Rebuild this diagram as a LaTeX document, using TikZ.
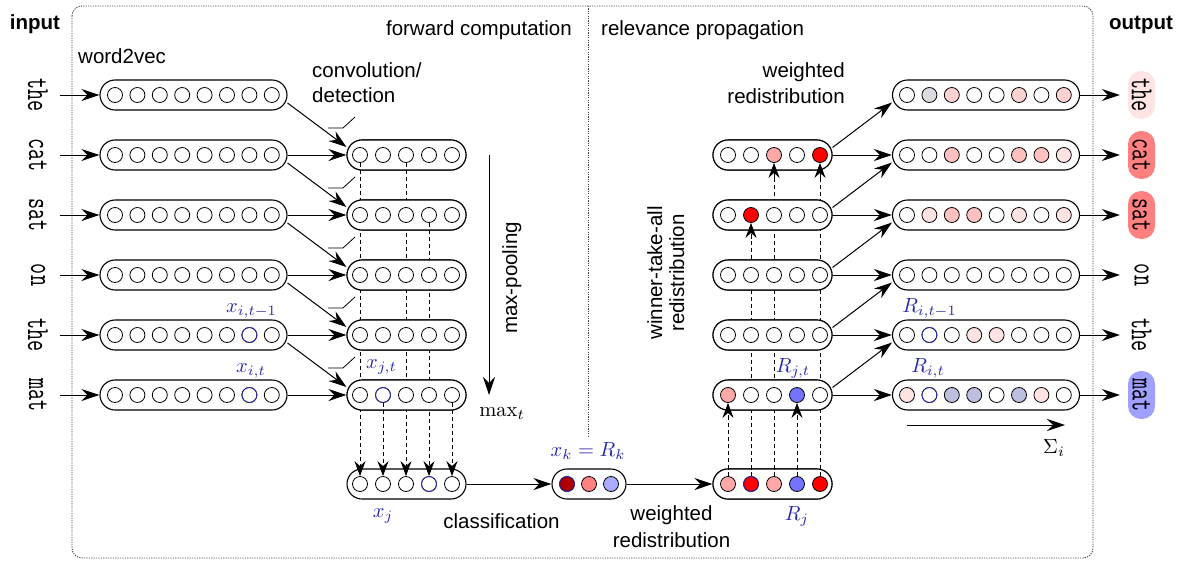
\documentclass[tikz,border=0pt]{standalone}
\usepackage{fontspec}
\setsansfont{Liberation Sans}
\usetikzlibrary{arrows.meta}
\definecolor{labblue}{RGB}{40,40,170}
\definecolor{oa}{HTML}{FFE2E2}
\definecolor{ob}{HTML}{FFD2D2}
\definecolor{oc}{HTML}{FFC0C0}
\definecolor{ogr}{HTML}{DCDCE0}
\definecolor{olav}{HTML}{BEBEDF}
\definecolor{rpk}{HTML}{FFA8A8}
\definecolor{rred}{HTML}{FF0000}
\definecolor{rblu}{HTML}{7373FF}
\definecolor{dred}{HTML}{B00000}
\definecolor{salm}{HTML}{FF8282}
\definecolor{lblu}{HTML}{AAAAFF}
\definecolor{wthe}{HTML}{FFE4E4}
\definecolor{wcat}{HTML}{FF8080}
\definecolor{wmat}{HTML}{A0A0FF}
\definecolor{framec}{HTML}{444444}

\newcommand\mkvec[7]{%
  \node[vbox, minimum width=#4] (#1) at (#2,#3) {};
  \foreach \f [count=\i] in {#7} {\node[cir, fill=\f] (#1-\i) at ({#5+#6*(\i-1)},#3) {};}%
}
\newcommand\ttw[1]{\scalebox{1}[1.5]{#1}}

\begin{document}
\begin{tikzpicture}[x=1pt,y=-1pt,
  vbox/.style={draw, line width=1.1pt, fill=white, rounded corners=15pt, minimum height=30pt, inner sep=0pt},
  cir/.style={draw, circle, minimum size=15pt, inner sep=0pt, line width=0.8pt},
  conn/.style={line width=1pt, -{Stealth[length=18pt,width=12pt,inset=6pt]}},
  dsh/.style={line width=0.9pt, dash pattern=on 4pt off 3pt},
  dar/.style={dsh, -{Stealth[length=15pt,width=11pt,inset=5pt]}},
  frm/.style={draw=framec, line width=0.9pt, dash pattern=on 1.2pt off 1.2pt},
  lab/.style={font=\fontsize{20.5}{24}\selectfont\sffamily, inner sep=0pt},
  blab/.style={font=\fontsize{20.5}{24}\selectfont\sffamily\bfseries, inner sep=0pt},
  mlab/.style={font=\fontsize{10}{12}\selectfont, scale=2.05, text=labblue, inner sep=0pt},
  klab/.style={font=\fontsize{10}{12}\selectfont, scale=2.05, inner sep=0pt},
  wrd/.style={rotate=-90, font=\fontsize{21.5}{26}\selectfont\ttfamily, inner sep=0pt, minimum height=44pt},
  owrd/.style={rotate=-90, font=\fontsize{21.5}{26}\selectfont\ttfamily, inner sep=0pt, minimum height=27pt, minimum width=48pt, rounded corners=13pt},
  relu/.style={line width=0.8pt},
  bring/.style={draw=labblue, line width=0.8pt}
]
\useasboundingbox (0,0) rectangle (1183,562);

% frame
\draw[frm, rounded corners=10pt] (72,6) rectangle (1093,558);
\draw[frm] (588,6) -- (588,438);

% titles and labels
\node[blab, anchor=base] (tin) at (35,29) {input};
\node[blab, anchor=base] (tout) at (1141,29) {output};
\node[lab, anchor=base east] (tfw) at (572,35) {forward computation};
\node[lab, anchor=base west] (trp) at (601,35) {relevance propagation};
\node[lab, anchor=base west] (tw2v) at (78,63) {word2vec};
\node[lab, anchor=base west] (tcv1) at (312,77) {convolution/};
\node[lab, anchor=base west] (tcv2) at (312,102) {detection};
\node[lab, anchor=base east] (twr1) at (845,77) {weighted};
\node[lab, anchor=base east] (twr2) at (845,103) {redistribution};
\node[lab, anchor=base, rotate=90] (tmp) at (517,278) {max-pooling};
\node[lab, anchor=base, rotate=90] (twta1) at (662,273) {winner-take-all};
\node[lab, anchor=base, rotate=90] (twta2) at (684,273) {redistribution};
\node[lab, anchor=base] (tcls) at (501.5,528) {classification};
\node[lab, anchor=base] (twb1) at (671.5,520) {weighted};
\node[lab, anchor=base] (twb2) at (671.5,547) {redistribution};

\node[mlab, anchor=base] (lxit1) at (251.5,312) {$x_{i,t-1}$};
\node[mlab, anchor=base] (lxit) at (251,372) {$x_{i,t}$};
\node[mlab, anchor=base] (lxjt) at (381.5,368) {$x_{j,t}$};
\node[mlab, anchor=base] (lxj) at (383,517) {$x_j$};
\node[mlab, anchor=base] (lxk) at (588,456) {$x_k = R_k$};
\node[mlab, anchor=base] (lrj) at (797,520) {$R_j$};
\node[mlab, anchor=base] (lrjt) at (793,372) {$R_{j,t}$};
\node[mlab, anchor=base] (lrit1) at (929.5,312) {$R_{i,t-1}$};
\node[mlab, anchor=base] (lrit) at (928,372) {$R_{i,t}$};
\node[klab, anchor=base] (lsum) at (1054,453) {$\Sigma_i$};
\node[klab, anchor=base west] (lmax) at (479,416) {$\max_t$};

% input words
\node[wrd] (w1) at (38,95) {\ttw{the}};
\node[wrd] (w2) at (38,155) {\ttw{cat}};
\node[wrd] (w3) at (38,215) {\ttw{sat}};
\node[wrd] (w4) at (38,275) {\ttw{on}};
\node[wrd] (w5) at (38,335) {\ttw{the}};
\node[wrd] (w6) at (38,395) {\ttw{mat}};

% input vectors
\mkvec{in1}{193.5}{95}{187pt}{115}{22.4}{white,white,white,white,white,white,white,white}
\mkvec{in2}{193.5}{155}{187pt}{115}{22.4}{white,white,white,white,white,white,white,white}
\mkvec{in3}{193.5}{215}{187pt}{115}{22.4}{white,white,white,white,white,white,white,white}
\mkvec{in4}{193.5}{275}{187pt}{115}{22.4}{white,white,white,white,white,white,white,white}
\mkvec{in5}{193.5}{335}{187pt}{115}{22.4}{white,white,white,white,white,white,white,white}
\mkvec{in6}{193.5}{395}{187pt}{115}{22.4}{white,white,white,white,white,white,white,white}
\draw[bring] (in5-7) circle[radius=7.5pt];
\draw[bring] (in6-7) circle[radius=7.5pt];

% output vectors
\mkvec{o1}{986}{95}{187pt}{907}{22.4}{white,ogr,ob,white,white,ob,white,ob}
\mkvec{o2}{986}{155}{187pt}{907}{22.4}{white,white,oc,white,white,oc,oc,oa}
\mkvec{o3}{986}{215}{187pt}{907}{22.4}{white,oa,oc,oc,white,oa,white,oa}
\mkvec{o4}{986}{275}{187pt}{907}{22.4}{white,white,white,white,white,white,white,white}
\mkvec{o5}{986}{335}{187pt}{907}{22.4}{white,white,white,oa,oa,white,white,white}
\mkvec{o6}{986}{395}{187pt}{907}{22.4}{oa,white,olav,olav,white,olav,oa,white}
\draw[bring] (o5-2) circle[radius=7.5pt];
\draw[bring] (o6-2) circle[radius=7.5pt];

% output words
\node[owrd, fill=wthe] (ow1) at (1141.5,95) {\ttw{the}};
\node[owrd, fill=wcat] (ow2) at (1141.5,155) {\ttw{cat}};
\node[owrd, fill=wcat] (ow3) at (1141.5,215) {\ttw{sat}};
\node[owrd] (ow4) at (1141.5,275) {\ttw{on}};
\node[owrd] (ow5) at (1141.5,335) {\ttw{the}};
\node[owrd, fill=wmat] (ow6) at (1141.5,395) {\ttw{mat}};

% pooled vector and class vector
\mkvec{xj}{406.5}{484}{119pt}{360}{23}{white,white,white,white,white}
\draw[bring] (xj-4) circle[radius=7.5pt];
\mkvec{xk}{589}{484}{74pt}{567}{22}{dred,salm,lblu}
\draw[bring] (xk-1) circle[radius=7.5pt];

% forward conv boxes placed to get names, dashed arrows, boxes redrawn on top
\foreach \k/\yy in {1/155,2/215,3/275,4/335,5/395}{
  \mkvec{cv\k}{406.5}{\yy}{119pt}{360}{23}{white,white,white,white,white}
}
\draw[dar] (cv1-1.south) -- (xj-1.north);
\draw[dar] (cv5-2.south) -- (xj-2.north);
\draw[dar] (cv1-3.south) -- (xj-3.north);
\draw[dar] (cv2-4.south) -- (xj-4.north);
\draw[dar] (cv5-5.south) -- (xj-5.north);
\foreach \k/\yy in {1/155,2/215,3/275,4/335,5/395}{
  \mkvec{cv\k}{406.5}{\yy}{119pt}{360}{23}{white,white,white,white,white}
}
\draw[bring] (cv5-2) circle[radius=7.5pt];
\draw[dsh] (cv1-1.south) -- ([yshift=-7.5pt]cv1-1.south);
\draw[dsh] (cv5-2.south) -- ([yshift=-7.5pt]cv5-2.south);
\draw[dsh] (cv1-3.south) -- ([yshift=-7.5pt]cv1-3.south);
\draw[dsh] (cv2-4.south) -- ([yshift=-7.5pt]cv2-4.south);
\draw[dsh] (cv5-5.south) -- ([yshift=-7.5pt]cv5-5.south);
% relu symbols
\foreach \k in {1,...,5}{
  \draw[relu] ([xshift=-78.5pt,yshift=27pt]cv\k.center) -- ++(15,0) -- ++(12,-11);
}

% relevance side: boxes placed to get names, dashed arrows, boxes redrawn
\mkvec{rj}{772.5}{484}{119pt}{728}{23}{rpk,rred,rpk,rblu,rred}
\mkvec{rc1}{772.5}{155}{119pt}{728}{23}{white,white,rpk,white,rred}
\mkvec{rc2}{772.5}{215}{119pt}{728}{23}{white,rred,white,white,white}
\mkvec{rc3}{772.5}{275}{119pt}{728}{23}{white,white,white,white,white}
\mkvec{rc4}{772.5}{335}{119pt}{728}{23}{white,white,white,white,white}
\mkvec{rc5}{772.5}{395}{119pt}{728}{23}{rpk,white,white,rblu,white}
\draw[dsh] (rj-1.north) -- (rc5-1.south);
\draw[dsh] (rj-2.north) -- (rc2-2.south);
\draw[dsh] (rj-3.north) -- (rc1-3.south);
\draw[dsh] (rj-4.north) -- (rc5-4.south);
\draw[dsh] (rj-5.north) -- (rc1-5.south);
\mkvec{rj}{772.5}{484}{119pt}{728}{23}{rpk,rred,rpk,rblu,rred}
\mkvec{rc1}{772.5}{155}{119pt}{728}{23}{white,white,rpk,white,rred}
\mkvec{rc2}{772.5}{215}{119pt}{728}{23}{white,rred,white,white,white}
\mkvec{rc3}{772.5}{275}{119pt}{728}{23}{white,white,white,white,white}
\mkvec{rc4}{772.5}{335}{119pt}{728}{23}{white,white,white,white,white}
\mkvec{rc5}{772.5}{395}{119pt}{728}{23}{rpk,white,white,rblu,white}
\draw[bring] (rj-2) circle[radius=7.5pt];
\draw[dar] ([yshift=-16pt]rc5-1.south) -- (rc5-1.south);
\draw[dar] ([yshift=-16pt]rc2-2.south) -- (rc2-2.south);
\draw[dar] ([yshift=-16pt]rc1-3.south) -- (rc1-3.south);
\draw[dar] ([yshift=-16pt]rc5-4.south) -- (rc5-4.south);
\draw[dar] ([yshift=-16pt]rc1-5.south) -- (rc1-5.south);
\foreach \c in {1,...,5}{
  \draw[dsh] (rj-\c.north) -- ([yshift=7.5pt]rj-\c.north);
}

% solid connectors
\foreach \k in {1,...,6}{
  \draw[conn] (w\k.north) -- (in\k.west);
  \draw[conn, shorten >=8pt] (o\k.east) -- (ow\k.south);
}
\foreach \k [evaluate=\k as \n using int(\k+1)] in {1,...,5}{
  \draw[conn] (in\n.east) -- (cv\k.west);
  \draw[conn] ([yshift=-8pt]in\k.east) -- ([yshift=8pt]cv\k.west);
  \draw[conn] (rc\k.east) -- (o\n.west);
  \draw[conn] ([yshift=7.5pt]rc\k.east) -- ([yshift=-7.5pt]o\k.west);
}
\draw[conn] (xj.east) -- (xk.west);
\draw[conn] (xk.east) -- (rj.west);

\coordinate (mp1) at (489,155);
\coordinate (mp2) at (489,395);
\draw[conn] (mp1) -- (mp2);
\coordinate (sm1) at (907,425);
\coordinate (sm2) at (1065,425);
\draw[conn] (sm1) -- (sm2);
\end{tikzpicture}
\end{document}
